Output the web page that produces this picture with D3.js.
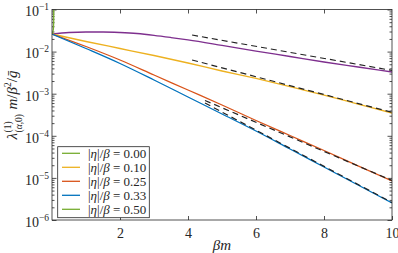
<!DOCTYPE html>
<html>
<head>
<meta charset="utf-8">
<script src="https://cdn.jsdelivr.net/npm/d3@7"></script>
<style>
  body { margin: 0; background: #fff; }
  svg text { font-family: "Liberation Serif", "DejaVu Serif", serif !important; fill: #262626; }
  .axis path { display: none; }
  .axis line { stroke: #262626; stroke-width: 0.8; }
</style>
</head>
<body>
<div id="chart"></div>
<script>
// curve samples
const xFine = [0, 0.5, 1, 1.5, 2, 2.5, 3, 3.5, 4, 5, 6, 7, 8, 9, 10];
const purpleVals = [0.0262, 0.0284, 0.0292, 0.0292, 0.0284, 0.0269, 0.0244, 0.0216, 0.0189, 0.014, 0.0103, 0.00765, 0.00566, 0.00431, 0.00328];

const xUnit = [0, 1, 2, 3, 4, 5, 6, 7, 8, 9, 10];
const yellowVals = [0.0262, 0.01738, 0.01185, 0.00808, 0.00536, 0.00346, 0.0023, 0.00148, 0.000931, 0.000569, 0.000348];
const orangeVals = [0.0262, 0.01322, 0.00632, 0.00278, 0.001225, 0.000539, 0.000231, 0.0001016, 4.48e-5, 1.94e-5, 8.44e-6];
const blueVals = [0.0262, 0.01185, 0.00522, 0.002115, 0.000835, 0.00033, 0.00013, 4.86e-5, 1.815e-5, 6.78e-6, 2.54e-6];

const greenX = [0.05, 0.05, 0.04, 0.02, 0];
const greenVals = [0.1, 0.05, 0.034, 0.028, 0.0262];

// asymptotes (dashed)
const asymPurpleX = [4.12, 10], asymPurple = [0.0248, 0.00356];
const asymYellowX = [4.12, 10], asymYellow = [0.00632, 0.000361];
const asymOrangeX = [4.5, 10], asymOrange = [0.00069, 8.68e-6];
const asymBlueX = [4.5, 10], asymBlue = [0.000601, 2.6e-6];

const legendLabels = ["0.00", "0.10", "0.25", "0.33", "0.50"];
const legendColors = ["#77AC30", "#EDB120", "#D95319", "#0072BD", "#77AC30"];

const xTicks = [2, 4, 6, 8, 10];
const yDecades = [1e-6, 1e-5, 1e-4, 1e-3, 1e-2, 1e-1];

const W = 398, H = 253;
const plot = { left: 52, right: 392, top: 9.5, bottom: 220 };
const serif = '"Liberation Serif", "DejaVu Serif", serif';

const svg = d3.select("#chart").append("svg")
  .attr("width", W).attr("height", H)
  .attr("font-family", serif);

const x = d3.scaleLinear().domain([0, 10]).range([plot.left, plot.right]);
const y = d3.scaleLog().domain([1e-6, 1e-1]).range([plot.bottom, plot.top]);

svg.append("defs").append("clipPath").attr("id", "clip")
  .append("rect")
  .attr("x", plot.left).attr("y", plot.top)
  .attr("width", plot.right - plot.left).attr("height", plot.bottom - plot.top);

const minors = [];
yDecades.slice(0, -1).forEach((d) => {
  for (let k = 2; k <= 9; k++) minors.push(d * k);
});

// axes
const xAxis = svg.append("g").attr("class", "axis")
  .attr("transform", `translate(0,${plot.bottom})`)
  .call(d3.axisBottom(x).tickValues(xTicks).tickSize(-4).tickPadding(8).tickFormat(d3.format("d")));
xAxis.attr("font-family", serif).attr("font-size", 14);
xAxis.selectAll("text").style("font-family", serif).style("font-size", "14px");

svg.append("g").attr("class", "axis")
  .attr("transform", `translate(0,${plot.top})`)
  .call(d3.axisTop(x).tickValues(xTicks.slice(0, -1)).tickSize(-4).tickFormat(""));

const yAxis = svg.append("g").attr("class", "axis")
  .attr("transform", `translate(${plot.left},0)`)
  .call(d3.axisLeft(y).tickValues(yDecades).tickSize(-4.5).tickPadding(3).tickFormat(""));
yAxis.attr("font-family", serif);

yAxis.selectAll(".tick text").each(function (d) {
  const t = d3.select(this).attr("dy", "0.45em")
    .style("font-family", serif).style("font-size", "14px");
  t.text("10");
  t.append("tspan").attr("dy", "-6").style("font-size", "9.5px")
    .text("\u2212" + Math.round(-Math.log10(d)));
});

svg.append("g").attr("class", "axis")
  .attr("transform", `translate(${plot.left},0)`)
  .call(d3.axisLeft(y).tickValues(minors).tickSize(-2.5).tickFormat(""));

svg.append("g").attr("class", "axis")
  .attr("transform", `translate(${plot.right},0)`)
  .call(d3.axisRight(y).tickValues(yDecades).tickSize(-4.5).tickFormat(""));

svg.append("g").attr("class", "axis")
  .attr("transform", `translate(${plot.right},0)`)
  .call(d3.axisRight(y).tickValues(minors).tickSize(-2.5).tickFormat(""));

// curves
const line = d3.line()
  .x((d) => x(d[0]))
  .y((d) => y(d[1]))
  .curve(d3.curveMonotoneX);

const straight = d3.line().x((d) => x(d[0])).y((d) => y(d[1]));

const g = svg.append("g").attr("clip-path", "url(#clip)");

const series = [
  { xs: xFine, vs: purpleVals, color: "#7E2F8E" },
  { xs: xUnit, vs: yellowVals, color: "#EDB120" },
  { xs: xUnit, vs: orangeVals, color: "#D95319" },
  { xs: xUnit, vs: blueVals, color: "#0072BD" },
];

series.forEach((s) => {
  g.append("path")
    .datum(d3.zip(s.xs, s.vs))
    .attr("d", line)
    .attr("fill", "none")
    .attr("stroke", s.color)
    .attr("stroke-width", 1.3);
});

g.append("path")
  .datum(d3.zip(greenX, greenVals))
  .attr("d", straight)
  .attr("fill", "none")
  .attr("stroke", "#77AC30")
  .attr("stroke-width", 1.3);

[[asymPurpleX, asymPurple], [asymYellowX, asymYellow], [asymOrangeX, asymOrange], [asymBlueX, asymBlue]]
  .forEach(([xs, vs]) => {
    g.append("path")
      .datum(d3.zip(xs, vs))
      .attr("d", straight)
      .attr("fill", "none")
      .attr("stroke", "#222")
      .attr("stroke-width", 1.2)
      .attr("stroke-dasharray", "6,4");
  });

// box
svg.append("rect")
  .attr("x", plot.left).attr("y", plot.top)
  .attr("width", plot.right - plot.left).attr("height", plot.bottom - plot.top)
  .attr("fill", "none").attr("stroke", "#262626").attr("stroke-width", 0.8);

// legend
const leg = svg.append("g");
leg.append("rect")
  .attr("x", 57.7).attr("y", 146.7).attr("width", 91.6).attr("height", 71)
  .attr("fill", "#fff").attr("stroke", "#262626").attr("stroke-width", 0.8);

legendLabels.forEach((lab, i) => {
  const yy = 153.3 + 14 * i;
  leg.append("line")
    .attr("x1", 62).attr("x2", 80).attr("y1", yy).attr("y2", yy)
    .attr("stroke", legendColors[i]).attr("stroke-width", 1.3);
  const t = leg.append("text").attr("x", 88).attr("y", yy + 4.3)
    .style("font-family", serif).style("font-size", "13px");
  t.append("tspan").text("|");
  t.append("tspan").style("font-style", "italic").text("\u03b7");
  t.append("tspan").text("|/");
  t.append("tspan").style("font-style", "italic").text("\u03b2");
  t.append("tspan").text(" = " + lab);
});

// x label
svg.append("text")
  .attr("x", (plot.left + plot.right) / 2).attr("y", 250)
  .attr("text-anchor", "middle")
  .style("font-family", serif).style("font-size", "15px").style("font-style", "italic")
  .text("\u03b2m");

// y label
const yl = svg.append("g").attr("transform", "translate(17,105) rotate(-90)");
const inner = yl.append("g");
const lam = inner.append("text").attr("x", 0).attr("y", 0)
  .style("font-family", serif).style("font-size", "15px").style("font-style", "italic").text("\u03bb");
const lw = lam.node().getComputedTextLength();
const sup = inner.append("text").attr("x", lw + 0.5).attr("y", -6)
  .style("font-family", serif).style("font-size", "9.5px").text("(1)");
const sub = inner.append("text").attr("x", lw + 0.5).attr("y", 5)
  .style("font-family", serif).style("font-size", "9.5px");
sub.append("tspan").text("(");
sub.append("tspan").style("font-style", "italic").text("\u03b1");
sub.append("tspan").text(",0)");
const sw = Math.max(sup.node().getComputedTextLength(), sub.node().getComputedTextLength());
const rest = inner.append("text").attr("x", lw + sw + 5).attr("y", 0)
  .style("font-family", serif).style("font-size", "15px").style("font-style", "italic");
rest.append("tspan").text("m");
rest.append("tspan").style("font-style", "normal").text("/");
rest.append("tspan").text("\u03b2");
rest.append("tspan").attr("dy", -6).style("font-size", "9.5px").style("font-style", "normal").text("2");
rest.append("tspan").attr("dy", 6).style("font-style", "normal").text("/");
rest.append("tspan").text("\u1e21");
const total = lw + sw + 5 + rest.node().getComputedTextLength();
inner.attr("transform", `translate(${-total / 2},0)`);
</script>
</body>
</html>
